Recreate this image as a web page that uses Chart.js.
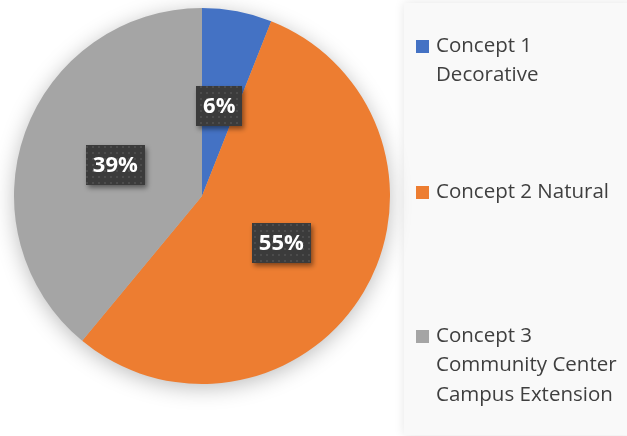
<!DOCTYPE html>
<html>
<head>
<meta charset="utf-8">
<script src="https://cdn.jsdelivr.net/npm/chart.js@4/dist/chart.umd.min.js"></script>
<style>
  html, body { margin: 0; padding: 0; background: #fff; }
  #wrap { width: 627px; height: 436px; }
</style>
</head>
<body>
<div id="wrap"><canvas id="pieChart" width="627" height="436"></canvas></div>
<script>
// Concept shares (percent)
const conceptLabels = [
    ['Concept 1', 'Decorative'],
    ['Concept 2 Natural'],
    ['Concept 3', 'Community Center', 'Campus Extension']
];
const conceptShares = [6, 55, 39];
const conceptColors = ['#4472C4', '#ED7D31', '#A5A5A5'];

// Dotted dark fill for the value boxes
function makeDotPattern(ctx) {
    const tile = document.createElement('canvas');
    tile.width = 6;
    tile.height = 6;
    const t = tile.getContext('2d');
    t.fillStyle = '#3b3b3b';
    t.fillRect(0, 0, 6, 6);
    t.fillStyle = '#4c4c4c';
    t.fillRect(2, 2, 2, 2);
    return ctx.createPattern(tile, 'repeat');
}

// Background, legend panel and the soft shadow under the pie
const backdrop = {
    id: 'backdrop',
    beforeDraw(chart) {
        const ctx = chart.ctx;
        ctx.save();
        ctx.fillStyle = '#ffffff';
        ctx.fillRect(0, 0, chart.width, chart.height);
        ctx.shadowColor = 'rgba(0,0,0,0.10)';
        ctx.shadowBlur = 10;
        ctx.fillStyle = '#f9f9f9';
        ctx.fillRect(404, 3, 230, 432);
        ctx.restore();
    },
    beforeDatasetsDraw(chart) {
        const arc = chart.getDatasetMeta(0).data[0];
        if (!arc) return;
        const ctx = chart.ctx;
        ctx.save();
        ctx.shadowColor = 'rgba(0,0,0,0.28)';
        ctx.shadowBlur = 22;
        ctx.shadowOffsetY = 4;
        ctx.fillStyle = '#bbbbbb';
        ctx.beginPath();
        ctx.arc(arc.x, arc.y, arc.outerRadius - 1, 0, Math.PI * 2);
        ctx.fill();
        ctx.restore();
    }
};

// Percentage boxes placed halfway out along each slice
const valueBoxes = {
    id: 'valueBoxes',
    afterDatasetsDraw(chart) {
        const ctx = chart.ctx;
        const pattern = makeDotPattern(ctx);
        const values = chart.data.datasets[0].data;
        chart.getDatasetMeta(0).data.forEach((arc, i) => {
            const mid = (arc.startAngle + arc.endAngle) / 2;
            const r = arc.outerRadius * 0.49;
            const cx = arc.x + Math.cos(mid) * r;
            const cy = arc.y + Math.sin(mid) * r;
            const text = values[i] + '%';
            ctx.save();
            ctx.font = 'bold 22px "Open Sans"';
            const w = ctx.measureText(text).width + 14;
            const h = 40;
            ctx.shadowColor = 'rgba(0,0,0,0.45)';
            ctx.shadowBlur = 5;
            ctx.shadowOffsetX = 2;
            ctx.shadowOffsetY = 3;
            ctx.fillStyle = pattern;
            ctx.fillRect(Math.round(cx - w / 2), Math.round(cy - h / 2), Math.round(w), h);
            ctx.shadowColor = 'transparent';
            ctx.fillStyle = '#ffffff';
            ctx.textAlign = 'center';
            ctx.textBaseline = 'middle';
            ctx.fillText(text, cx, cy + 1);
            ctx.restore();
        });
    }
};

// Legend on the right with wrapped entries
const sideLegend = {
    id: 'sideLegend',
    afterDraw(chart) {
        const ctx = chart.ctx;
        const firstLineY = [46, 192, 336];
        const lineGap = 29.5;
        ctx.save();
        ctx.font = '20.5px "Open Sans"';
        ctx.textBaseline = 'middle';
        ctx.textAlign = 'left';
        chart.data.labels.forEach((lines, i) => {
            const y0 = firstLineY[i];
            ctx.fillStyle = chart.data.datasets[0].backgroundColor[i];
            ctx.fillRect(416, y0 - 6, 13, 13);
            ctx.fillStyle = '#3f3f3f';
            lines.forEach((line, k) => {
                ctx.fillText(line, 436, y0 + k * lineGap);
            });
        });
        ctx.restore();
    }
};

const ctx = document.getElementById('pieChart').getContext('2d');
new Chart(ctx, {
    type: 'pie',
    data: {
        labels: conceptLabels,
        datasets: [{
            data: conceptShares,
            backgroundColor: conceptColors,
            borderWidth: 0
        }]
    },
    options: {
        responsive: false,
        animation: false,
        layout: { padding: { left: 14, top: 8, right: 237, bottom: 52 } },
        plugins: {
            legend: { display: false },
            tooltip: { enabled: false }
        }
    },
    plugins: [backdrop, valueBoxes, sideLegend]
});
</script>
</body>
</html>
